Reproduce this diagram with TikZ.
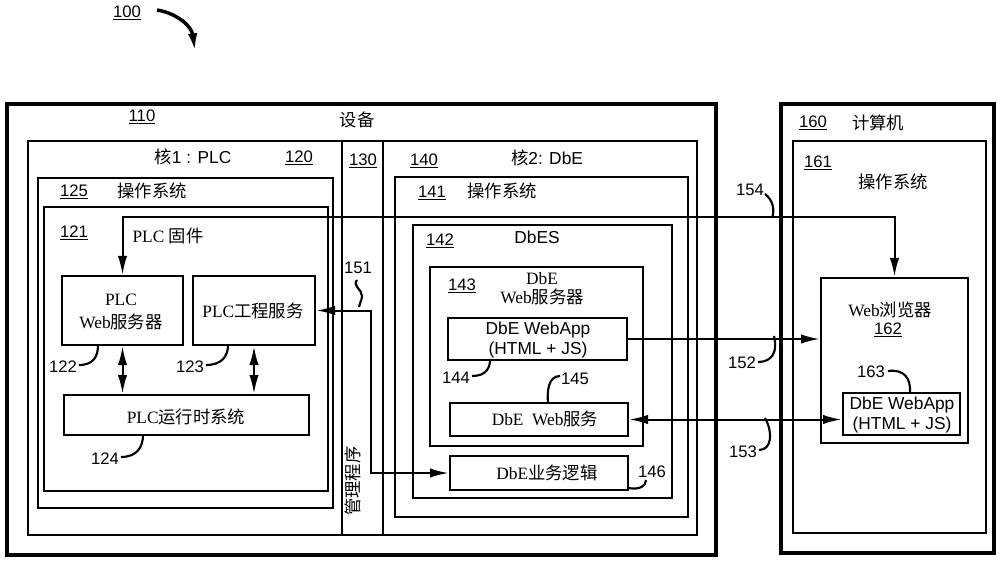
\documentclass[tikz,border=0pt]{standalone}
\usepackage{fontspec}
\setmainfont{Liberation Serif}
\setsansfont{Liberation Sans}
\newfontfamily\cjk{Noto Sans CJK SC}
\usetikzlibrary{arrows.meta,fit}
\newcommand\zh[1]{{\cjk #1}}
\begin{document}
\begin{tikzpicture}[x=0.75pt,y=-0.75pt,
  >={Latex[length=14pt,width=7pt]},
  outerbox/.style={draw,line width=2.6pt,inner sep=0pt},
  ibox/.style={draw,line width=2pt,inner sep=0pt},
  conn/.style={line width=1.5pt},
  lead/.style={line width=1.6pt},
  num/.style={font=\sffamily\fontsize{12.5}{14}\selectfont,inner sep=0pt},
  txt/.style={font=\fontsize{13}{15}\selectfont,inner sep=0pt,align=center},
  stxt/.style={font=\sffamily\fontsize{13}{15}\selectfont,inner sep=0pt,align=center},
  ztxt/.style={font=\cjk\fontsize{13}{15}\selectfont,inner sep=0pt,align=center}]
\useasboundingbox (0,0) rectangle (1000,563);
% boxes
\node[outerbox,fit={(7,104) (716,555)}] (dev) {};
\node[ibox,fit={(28,141) (342,535)}] (core1) {};
\node[ibox,fit={(342,141) (383,535)}] (hyp) {};
\node[ibox,fit={(383,141) (697,535)}] (core2) {};
\node[ibox,fit={(38,178) (333,508)}] (os1) {};
\node[ibox,fit={(44,207) (328,491)}] (fw) {};
\node[ibox,fit={(62,276) (183,345)}] (pweb) {};
\node[ibox,fit={(193,276) (315,345)}] (peng) {};
\node[ibox,fit={(64,395) (309,435)}] (rt) {};
\node[ibox,fit={(395,177) (688,517)}] (os2) {};
\node[ibox,fit={(413,225) (672,498)}] (dbes) {};
\node[ibox,fit={(430,267) (643,446)}] (dws) {};
\node[ibox,fit={(448,318) (627,360)}] (webapp) {};
\node[ibox,fit={(450,403) (628,436)}] (websvc) {};
\node[ibox,fit={(450,456) (628,490)}] (logic) {};
\node[outerbox,fit={(781,104) (994,553)}] (comp) {};
\node[ibox,fit={(793,141) (986,533)}] (os3) {};
\node[ibox,fit={(821,278) (968,443)}] (browser) {};
\node[ibox,fit={(843,393) (960,435)}] (bapp) {};
% texts
\node[num] (t100) at (127,13) {\underline{100}};
\draw[line width=2.6pt,-{Latex[length=14pt,width=7pt]}] (157,10) .. controls (180,14) and (192,28) .. (195,52);
\node[num] (t110) at (142,117) {\underline{110}};
\node[ztxt] (tdev) at (357,120) {设备};
\node[stxt] (tcore1) at (193,157) {\zh{核}1 : PLC};
\node[num] (t120) at (299,158) {\underline{120}};
\node[num] (t130) at (363,161) {\underline{130}};
\node[num] (t140) at (424,161) {\underline{140}};
\node[stxt] (tcore2) at (547,158) {\zh{核}2: DbE};
\node[num] (t125) at (74,192) {\underline{125}};
\node[ztxt] (tos1) at (152,191) {操作系统};
\node[num] (t141) at (432,193) {\underline{141}};
\node[ztxt] (tos2) at (502,191) {操作系统};
\node[num] (t121) at (74,233) {\underline{121}};
\node[txt] (tfw) at (168,236) {PLC\ \zh{固件}};
\node[num] (t142) at (440,241) {\underline{142}};
\node[stxt] (tdbes) at (537,237) {DbES};
\node[num] (t143) at (462,286) {\underline{143}};
\node[txt] (tdws1) at (542,279) {DbE};
\node[txt] (tdws2) at (542,297) {Web\zh{服务器}};
\node[txt] (tpweb1) at (121,300) {PLC};
\node[txt] (tpweb2) at (121,322) {Web\zh{服务器}};
\node[txt] (tpeng) at (253,311) {PLC\zh{工程服务}};
\node[txt] (trt) at (186,417) {PLC\zh{运行时系统}};
\node[stxt] (twa1) at (538,330) {DbE WebApp};
\node[stxt] (twa2) at (538,350) {(HTML + JS)};
\node[txt] (tws) at (545,419) {DbE\ \ Web\zh{服务}};
\node[txt] (tlog) at (547,473) {DbE\zh{业务逻辑}};
\node[ztxt,rotate=90] (thyp) at (353,481) {管理程序};
\node[num] (t160) at (813,123) {\underline{160}};
\node[ztxt] (tcomp) at (878,123) {计算机};
\node[num] (t161) at (818,163) {\underline{161}};
\node[ztxt] (tos3) at (893,182) {操作系统};
\node[txt] (tbr) at (890,310) {Web\zh{浏览器}};
\node[num] (t162) at (888,330) {\underline{162}};
\node[stxt] (tba1) at (902,405) {DbE WebApp};
\node[stxt] (tba2) at (902,425) {(HTML + JS)};
% reference labels
\node[num] (l122) at (63,367) {122};
\node[num] (l123) at (190,367) {123};
\node[num] (l124) at (105,459) {124};
\node[num] (l144) at (456,378) {144};
\node[num] (l145) at (575,379) {145};
\node[num] (l146) at (652,472) {146};
\node[num] (l151) at (358,268) {151};
\node[num] (l152) at (742,363) {152};
\node[num] (l153) at (743,452) {153};
\node[num] (l154) at (750,190) {154};
\node[num] (l163) at (871,372) {163};
\draw[lead] (79,365) .. controls (94,365) and (98,356) .. (98,345);
\draw[lead] (206,365) .. controls (222,365) and (228,356) .. (228,345);
\draw[lead] (121,457) .. controls (137,457) and (143,447) .. (143,435);
\draw[lead] (472,376) .. controls (486,376) and (490,368) .. (490,360);
\draw[lead] (560,376) .. controls (548,376) and (547,392) .. (548,403);
\draw[lead] (628,488) .. controls (640,490) and (646,486) .. (646,480);
\draw[lead] (357,280) .. controls (352,286) and (362,289) .. (362,296) .. controls (362,301) and (359,303) .. (359,307);
\draw[lead] (758,362) .. controls (772,362) and (778,352) .. (774,336);
\draw[lead] (759,450) .. controls (772,450) and (773,432) .. (765,418);
\draw[lead] (765,194) .. controls (773,200) and (775,210) .. (772,218);
\draw[lead] (888,371) .. controls (904,369) and (911,378) .. (910,393);
% connectors
\coordinate (c154) at (500,217);
\coordinate (c151) at (371,400);
\draw[conn,<->] (pweb.north) |- (c154) -| (browser.north);
\draw[conn,->] (webapp.east) -- (webapp.east -| browser.west);
\draw[conn,<->] (websvc.east) -- (websvc.east -| bapp.west);
\draw[conn,<->] (peng.east) -| (c151) |- (logic.west);
\draw[conn,<->] (pweb.south) -- (pweb.south |- rt.north);
\draw[conn,<->] (peng.south) -- (peng.south |- rt.north);
\end{tikzpicture}
\end{document}
